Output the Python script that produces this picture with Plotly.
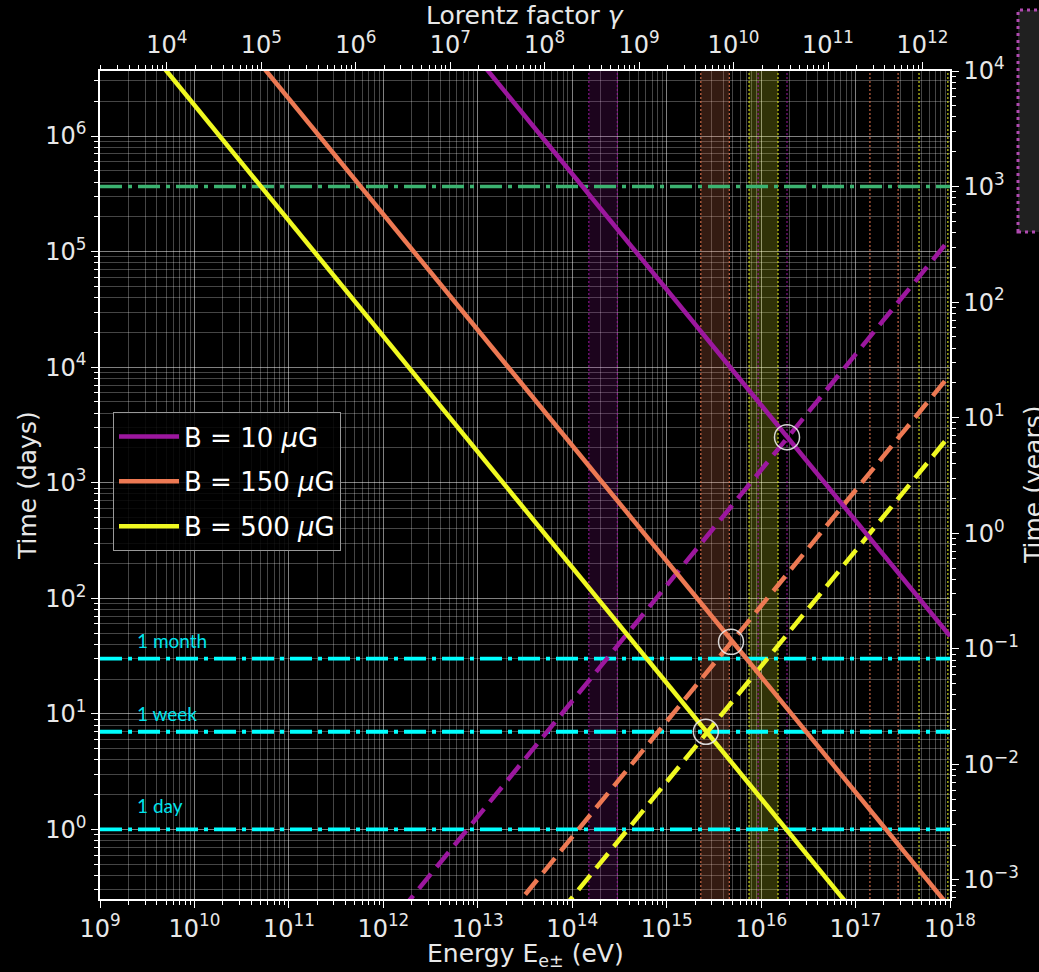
import numpy as np
import plotly.graph_objects as go

# ---------------- data ----------------
B_labels = ["B = 10 <i>μ</i>G", "B = 150 <i>μ</i>G", "B = 500 <i>μ</i>G"]
line_colors = ["#9c179e", "#ed7953", "#f0f921"]

# energy end points (eV) of the straight log-log lines
E_ends = [1e9, 1e18]
# cooling time (days) at the end points, solid lines
t_cool_B10 = [4.7e10, 47]
t_cool_B150 = [2.1e8, 0.21]
t_cool_B500 = [1.85e7, 0.0185]
# acceleration time (days) at the end points, dashed lines
t_acc_B10 = [1.29e-4, 1.29e5]
t_acc_B150 = [8.6e-6, 8.6e3]
t_acc_B500 = [2.58e-6, 2.58e3]

# intersections (circles)
E_cross = [1.88e16, 4.8e15, 2.6e15]
t_cross = [2480, 42, 7.0]

# shaded bands (eV) and dotted-only pairs (eV)
band_lo = [1.5e14, 2.3e15, 7.45e15]
band_hi = [3.0e14, 4.6e15, 1.51e16]
dot_lo = [9.3e15, 1.42e17, 4.7e17]
dot_hi = [1.88e16, 2.82e17, 9.5e17]
band_fill = ["rgba(156,23,158,0.18)", "rgba(237,121,83,0.22)", "rgba(240,249,33,0.20)"]

# horizontal reference times (days)
t_ref_labels = ["1 month", "1 week", "1 day"]
t_ref_days = [30, 7, 1]
t_1000yr = 365250

# axis limits and tick decades
E_lim = [1e9, 1e18]
t_lim = [0.25, 3.6525e6]
me_c2_eV = 510998.95
days_per_year = 365.25
E_decades = list(range(9, 19))
gamma_decades = list(range(4, 13))
day_decades = list(range(0, 7))
year_decades = list(range(-3, 5))

# ---------------- figure ----------------
fig = go.Figure()

# bands
for lo, hi, fc, lc in zip(band_lo, band_hi, band_fill, line_colors):
    fig.add_trace(go.Scatter(x=[lo, hi, hi, lo, lo], y=[t_lim[0], t_lim[0], t_lim[1], t_lim[1], t_lim[0]],
                             mode="lines", fill="toself", fillcolor=fc, line=dict(width=0),
                             showlegend=False, hoverinfo="skip"))
    for xv in (lo, hi):
        fig.add_trace(go.Scatter(x=[xv, xv], y=t_lim, mode="lines",
                                 line=dict(color=lc, width=1, dash="2px,2px"),
                                 showlegend=False, hoverinfo="skip"))
for lo, hi, lc in zip(dot_lo, dot_hi, line_colors):
    for xv in (lo, hi):
        fig.add_trace(go.Scatter(x=[xv, xv], y=t_lim, mode="lines",
                                 line=dict(color=lc, width=1, dash="2px,2px"),
                                 showlegend=False, hoverinfo="skip"))

dashdot = "22px,6px,4px,6px"
# horizontal lines
fig.add_trace(go.Scatter(x=E_lim, y=[t_1000yr, t_1000yr], mode="lines",
                         line=dict(color="#3cb371", width=3.5, dash=dashdot),
                         showlegend=False, hoverinfo="skip"))
for tv in t_ref_days:
    fig.add_trace(go.Scatter(x=E_lim, y=[tv, tv], mode="lines",
                             line=dict(color="#00ffff", width=3.8, dash=dashdot),
                             showlegend=False, hoverinfo="skip"))

# lines
cools = [t_cool_B10, t_cool_B150, t_cool_B500]
accs = [t_acc_B10, t_acc_B150, t_acc_B500]
for lab, col, tc, ta in zip(B_labels, line_colors, cools, accs):
    fig.add_trace(go.Scatter(x=E_ends, y=ta, mode="lines",
                             line=dict(color=col, width=4.5, dash="19px,9px"),
                             showlegend=False, legendgroup=lab, hoverinfo="skip"))
for lab, col, tc, ta in zip(B_labels, line_colors, cools, accs):
    fig.add_trace(go.Scatter(x=E_ends, y=tc, mode="lines", name=lab,
                             line=dict(color=col, width=4.5), legendgroup=lab))

# intersection circles
fig.add_trace(go.Scatter(x=E_cross, y=t_cross, mode="markers",
                         marker=dict(symbol="circle-open", size=25, color="rgba(235,235,235,0.9)",
                                     line=dict(width=1.5)),
                         showlegend=False, hoverinfo="skip"))

# dummy trace for secondary axes
fig.add_trace(go.Scatter(x=[1e6], y=[1.0], xaxis="x2", yaxis="y2", mode="markers",
                         marker=dict(opacity=0), showlegend=False, hoverinfo="skip"))

font_family = "DejaVu Sans"
tickfont = dict(family=font_family, size=24, color="#e8e8e8")
major_grid = "rgba(255,255,255,0.5)"
minor_grid = "rgba(255,255,255,0.27)"


def major_ticks(decades):
    return [10.0 ** d for d in decades], ["10<sup>%s</sup>" % str(d).replace("-", "\u2212") for d in decades]


def minor_vals(decades):
    lo, hi = min(decades) - 1, max(decades) + 1
    return [k * 10.0 ** d for d in range(lo, hi + 1) for k in range(2, 10)]


def axis(decades, rng, grid, **kw):
    tv, tt = major_ticks(decades)
    d = dict(type="log", range=rng, showline=True, linecolor="white", linewidth=1.5,
             ticks="outside", ticklen=7, tickwidth=1, tickcolor="white",
             tickmode="array", tickvals=tv, ticktext=tt, tickfont=tickfont, zeroline=False,
             showgrid=grid, gridcolor=major_grid, gridwidth=1,
             minor=dict(tickmode="array", tickvals=minor_vals(decades), ticks="outside", ticklen=4,
                        tickcolor="white", showgrid=grid, gridcolor=minor_grid, gridwidth=1))
    d.update(kw)
    return d


fig.update_layout(
    width=1039, height=972,
    paper_bgcolor="black", plot_bgcolor="black",
    margin=dict(l=100, r=89, t=71, b=73),
    xaxis=axis(E_decades, [np.log10(E_lim[0]), np.log10(E_lim[1])], True),
    yaxis=axis(day_decades, [np.log10(t_lim[0]), np.log10(t_lim[1])], True),
    xaxis2=axis(gamma_decades, [np.log10(E_lim[0] / me_c2_eV), np.log10(E_lim[1] / me_c2_eV)], False,
                overlaying="x", side="top", anchor="y"),
    yaxis2=axis(year_decades, [np.log10(t_lim[0] / days_per_year), np.log10(t_lim[1] / days_per_year)], False,
                overlaying="y", side="right", anchor="x"),
    legend=dict(x=0.0153, y=0.588, xanchor="left", yanchor="top",
                bgcolor="rgba(0,0,0,0.85)", bordercolor="#999999", borderwidth=1,
                font=dict(family=font_family, size=26, color="white"),
                itemwidth=60, tracegroupgap=8),
    showlegend=True,
)

# axis titles as annotations
title_font = dict(family=font_family, size=25, color="#e8e8e8")
fig.add_annotation(text="Energy E<sub>e±</sub> (eV)", xref="paper", yref="paper",
                   x=0.5, y=(899 - 955) / 828, xanchor="center", yanchor="middle", showarrow=False,
                   font=title_font)
fig.add_annotation(text="Lorentz factor <i>γ</i>", xref="paper", yref="paper",
                   x=0.5, y=(899 - 16) / 828, xanchor="center", yanchor="middle", showarrow=False,
                   font=title_font)
fig.add_annotation(text="Time (days)", xref="paper", yref="paper", textangle=-90,
                   x=-0.0859, y=0.5, xanchor="center", yanchor="middle", showarrow=False, font=title_font)
fig.add_annotation(text="Time (years)", xref="paper", yref="paper", textangle=-90,
                   x=1.0976, y=0.5, xanchor="center", yanchor="middle", showarrow=False, font=title_font)

# reference labels
label_y_px = [640, 713, 805]
for lab, ypx in zip(t_ref_labels, label_y_px):
    fig.add_annotation(text=lab, xref="paper", yref="paper", x=(135 - 100) / 850, y=(899 - ypx) / 828,
                       xanchor="left", yanchor="middle", showarrow=False,
                       font=dict(family="Lato", size=19, color="#00e5ee"))

# partially visible box at top right
fig.add_shape(type="rect", xref="paper", yref="paper",
              x0=(1018 - 100) / 850, x1=(1060 - 100) / 850,
              y0=(899 - 232) / 828, y1=(899 - 10) / 828,
              fillcolor="#202020", line=dict(color="#b04ab0", width=3, dash="3px,4px"), layer="above")

fig.write_html("out.html")
